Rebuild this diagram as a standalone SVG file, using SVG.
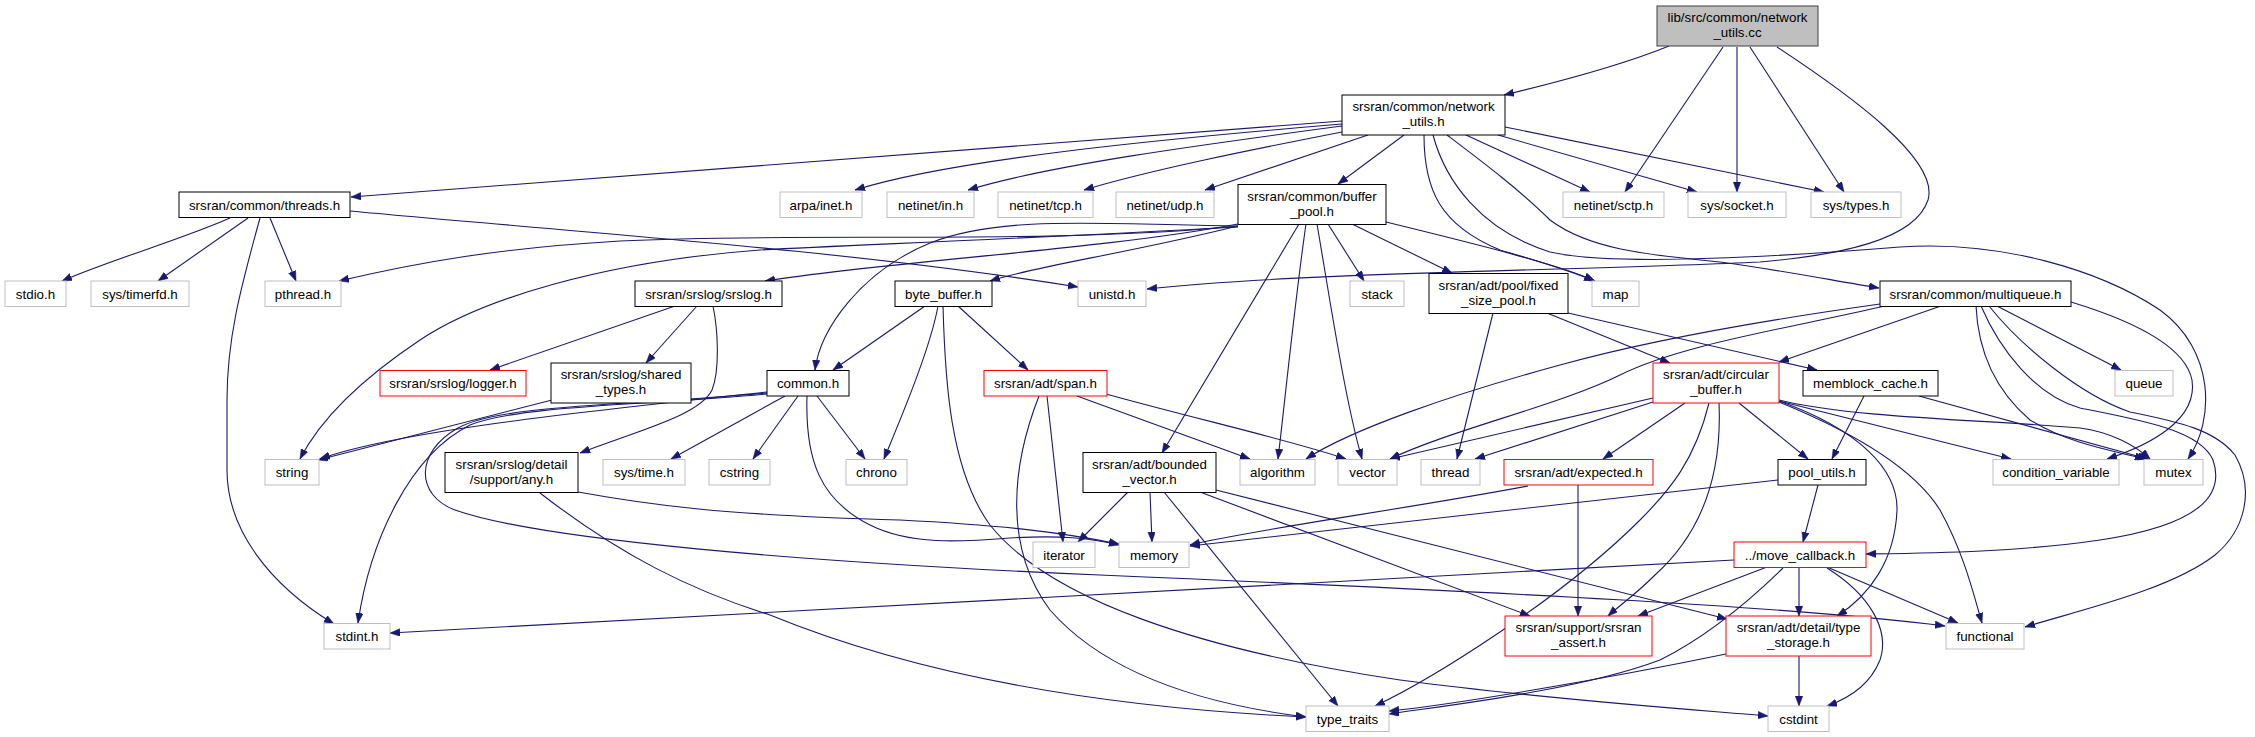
<svg xmlns="http://www.w3.org/2000/svg" width="2255" height="737" viewBox="0 0 2255 737">
<style>
.n rect{fill:#fff;stroke:#000;stroke-width:1}
.g rect{stroke:#bfbfbf}
.r rect{stroke:#ff0000}
.root rect{fill:#bfbfbf;stroke:#404040}
text{font-family:"Liberation Sans",Arial,Helvetica,sans-serif;font-size:13.33px;text-anchor:middle;fill:#000}
#edges path{fill:none;stroke:#191970;stroke-width:1.1;marker-end:url(#a)}
</style>
<defs>
<marker id="a" markerUnits="userSpaceOnUse" markerWidth="11" markerHeight="8" refX="10" refY="3.75" orient="auto">
<path d="M0,0 L10,3.75 L0,7.5 z" fill="#191970" stroke="#191970" stroke-width="0.5"/>
</marker>
</defs>
<rect width="2255" height="737" fill="#fff"/>
<g id="edges">
<path d="M1669,46 C1620,66 1550,84 1504,95"/>
<path d="M1723,47 L1625,192"/>
<path d="M1737,47 L1737,192"/>
<path d="M1750,47 L1844,192"/>
<path d="M1777,47 C1850,95 1940,160 1928,200 C1915,240 1840,255 1760,262 C1600,270 1300,272 1147,289"/>
<path d="M1342,121 L351,197"/>
<path d="M1342,124 C1150,140 950,160 855,190"/>
<path d="M1342,126 C1200,145 1050,165 968,190"/>
<path d="M1342,132 C1250,150 1150,170 1084,190"/>
<path d="M1368,135 L1205,190"/>
<path d="M1404,135 L1338,184"/>
<path d="M1466,135 L1590,192"/>
<path d="M1498,135 L1697,192"/>
<path d="M1505,127 L1824,192"/>
<path d="M1424,135 C1424,190 1440,225 1500,250 C1540,262 1570,270 1594,281"/>
<path d="M1433,135 C1445,180 1480,230 1550,252 C1620,268 1800,255 1900,247 C2000,240 2100,270 2160,310 C2215,350 2215,420 2188,459"/>
<path d="M1447,135 C1480,160 1520,190 1550,220 C1590,250 1650,255 1720,262 C1780,270 1830,280 1879,288"/>
<path d="M1238,226 C1050,245 800,232 620,241 C500,248 420,262 339,281"/>
<path d="M1238,227 C1000,240 850,245 760,250 C600,262 480,300 420,340 C360,380 320,420 300,459"/>
<path d="M1238,224 C1100,250 900,260 765,281"/>
<path d="M1238,226 C1120,255 1040,265 990,281"/>
<path d="M1238,226 C1100,224 1000,215 930,243 C860,272 820,330 815,370"/>
<path d="M1299,224 L1162,453"/>
<path d="M1306,224 C1295,300 1285,400 1278,459"/>
<path d="M1317,224 C1330,300 1345,400 1362,459"/>
<path d="M1328,224 L1364,281"/>
<path d="M1352,224 L1452,273"/>
<path d="M1386,222 C1480,245 1560,265 1595,281"/>
<path d="M230,218 C180,240 110,260 62,281"/>
<path d="M248,218 L158,281"/>
<path d="M270,218 L296,281"/>
<path d="M260,218 C240,290 227,340 227,400 L227,470 C227,530 270,585 334,624"/>
<path d="M350,211 C550,230 850,250 1078,287"/>
<path d="M675,306 L490,370"/>
<path d="M697,306 L646,363"/>
<path d="M713,306 C718,330 720,370 712,390 C700,415 640,430 580,453"/>
<path d="M552,400 L318,460"/>
<path d="M767,392 C600,410 400,430 320,459"/>
<path d="M767,394 C650,405 520,405 470,425 C410,455 370,540 358,623"/>
<path d="M767,393 C640,405 500,404 458,428 C415,452 415,495 455,510 C540,540 800,562 1100,575 C1500,592 1800,607 1945,626"/>
<path d="M785,396 L671,459"/>
<path d="M798,396 L753,459"/>
<path d="M817,396 L865,459"/>
<path d="M807,396 C805,460 820,500 870,525 C910,545 960,542 1010,538 C1060,535 1090,538 1119,545"/>
<path d="M925,306 L833,370"/>
<path d="M938,306 C930,350 900,420 884,459"/>
<path d="M943,306 C945,380 950,470 990,525 C1050,600 1200,650 1400,680 C1550,700 1700,710 1768,716"/>
<path d="M958,306 L1028,370"/>
<path d="M1077,396 L1250,459"/>
<path d="M1106,394 C1200,420 1290,440 1346,459"/>
<path d="M1047,396 L1063,542"/>
<path d="M1039,396 C1010,470 1005,550 1050,610 C1120,690 1250,710 1306,717"/>
<path d="M1128,492 L1078,542"/>
<path d="M1150,492 L1152,542"/>
<path d="M1164,492 L1338,706"/>
<path d="M1200,492 L1530,616"/>
<path d="M1216,490 L1727,619"/>
<path d="M1653,398 L1390,459"/>
<path d="M1653,402 L1475,459"/>
<path d="M1685,403 L1603,459"/>
<path d="M1739,403 L1808,459"/>
<path d="M1709,403 C1695,460 1670,490 1640,520 C1560,600 1430,680 1375,706"/>
<path d="M1719,403 C1722,470 1705,530 1655,575 C1635,595 1620,605 1608,616"/>
<path d="M1779,401 C1860,430 1898,470 1897,510 C1895,560 1870,595 1837,616"/>
<path d="M1779,402 C1860,435 1915,470 1940,510 C1965,555 1975,600 1982,623"/>
<path d="M1779,401 L2011,459"/>
<path d="M1779,400 C1850,418 1990,420 2080,428 C2110,432 2135,445 2150,459"/>
<path d="M1547,313 L1670,363"/>
<path d="M1568,313 L1817,370"/>
<path d="M1493,313 L1457,459"/>
<path d="M1880,304 C1780,318 1650,340 1560,365 C1450,395 1350,430 1306,459"/>
<path d="M1885,306 C1780,330 1680,345 1620,375 C1560,405 1450,430 1390,459"/>
<path d="M1941,306 L1779,362"/>
<path d="M1997,306 L2121,370"/>
<path d="M1976,306 C1978,350 1995,390 2030,420 C2070,445 2120,452 2145,459"/>
<path d="M1981,306 C2000,350 2035,395 2080,408 C2140,420 2200,430 2213,460 C2225,495 2200,525 2100,540 C2020,552 1930,553 1866,554"/>
<path d="M1989,306 C2020,345 2080,395 2130,412 C2180,422 2215,430 2235,455 C2255,490 2245,530 2215,555 C2170,590 2080,610 2025,627"/>
<path d="M2071,302 C2130,320 2185,345 2192,380 C2198,420 2150,445 2107,459"/>
<path d="M1864,396 L1832,459"/>
<path d="M1919,396 L2148,459"/>
<path d="M1818,485 L1803,542"/>
<path d="M1778,480 L1190,546"/>
<path d="M1578,485 L1578,616"/>
<path d="M1528,486 C1400,510 1250,530 1190,545"/>
<path d="M1734,560 L390,633"/>
<path d="M1767,567 L1638,616"/>
<path d="M1783,568 C1740,610 1700,640 1660,660 C1580,690 1450,705 1389,714"/>
<path d="M1799,567 L1799,616"/>
<path d="M1827,567 L1958,623"/>
<path d="M1827,568 C1870,595 1890,630 1880,660 C1870,685 1850,698 1827,706"/>
<path d="M1799,656 L1799,706"/>
<path d="M1726,654 C1600,680 1450,705 1389,711"/>
<path d="M578,492 C650,505 720,515 900,520 C1000,525 1060,532 1119,544"/>
<path d="M540,493 C620,555 690,590 770,615 C880,660 1050,705 1306,717"/>
</g>
<g id="cc" class="n root"><rect x="1657" y="6" width="161" height="40"/><text x="1737.5" y="22">lib/src/common/network</text><text x="1737.5" y="37">_utils.cc</text></g>
<g id="nu" class="n"><rect x="1342" y="95" width="163" height="40"/><text x="1423.5" y="111">srsran/common/network</text><text x="1423.5" y="126">_utils.h</text></g>
<g id="threads" class="n"><rect x="179" y="192" width="171" height="25.5"/><text x="264.5" y="209.5">srsran/common/threads.h</text></g>
<g id="arpa" class="n g"><rect x="780" y="192" width="82" height="25.5"/><text x="821" y="209.5">arpa/inet.h</text></g>
<g id="netin" class="n g"><rect x="887" y="192" width="87" height="25.5"/><text x="930.5" y="209.5">netinet/in.h</text></g>
<g id="tcp" class="n g"><rect x="998" y="192" width="95" height="25.5"/><text x="1045.5" y="209.5">netinet/tcp.h</text></g>
<g id="udp" class="n g"><rect x="1116" y="192" width="98" height="25.5"/><text x="1165" y="209.5">netinet/udp.h</text></g>
<g id="bp" class="n"><rect x="1238" y="184.5" width="148" height="40"/><text x="1312" y="200.5">srsran/common/buffer</text><text x="1312" y="215.5">_pool.h</text></g>
<g id="sctp" class="n g"><rect x="1563" y="192" width="101" height="25.5"/><text x="1613.5" y="209.5">netinet/sctp.h</text></g>
<g id="socket" class="n g"><rect x="1688" y="192" width="98" height="25.5"/><text x="1737" y="209.5">sys/socket.h</text></g>
<g id="types" class="n g"><rect x="1811" y="192" width="90" height="25.5"/><text x="1856" y="209.5">sys/types.h</text></g>
<g id="stdio" class="n g"><rect x="5" y="281" width="61" height="25.5"/><text x="35.5" y="298.5">stdio.h</text></g>
<g id="timerfd" class="n g"><rect x="91" y="281" width="98" height="25.5"/><text x="140" y="298.5">sys/timerfd.h</text></g>
<g id="pthread" class="n g"><rect x="265" y="281" width="76" height="25.5"/><text x="303" y="298.5">pthread.h</text></g>
<g id="srslog" class="n"><rect x="635" y="281" width="147" height="25.5"/><text x="708.5" y="298.5">srsran/srslog/srslog.h</text></g>
<g id="bb" class="n"><rect x="895" y="281" width="97" height="25.5"/><text x="943.5" y="298.5">byte_buffer.h</text></g>
<g id="unistd" class="n g"><rect x="1078" y="281" width="68" height="25.5"/><text x="1112" y="298.5">unistd.h</text></g>
<g id="stack" class="n g"><rect x="1350" y="281" width="54" height="25.5"/><text x="1377" y="298.5">stack</text></g>
<g id="fsp" class="n"><rect x="1429" y="273.5" width="139" height="40"/><text x="1498.5" y="289.5">srsran/adt/pool/fixed</text><text x="1498.5" y="304.5">_size_pool.h</text></g>
<g id="map" class="n g"><rect x="1592" y="281" width="47" height="25.5"/><text x="1615.5" y="298.5">map</text></g>
<g id="mq" class="n"><rect x="1880" y="281" width="191" height="25.5"/><text x="1975.5" y="298.5">srsran/common/multiqueue.h</text></g>
<g id="logger" class="n r"><rect x="380" y="370.5" width="146" height="25.5"/><text x="453" y="388">srsran/srslog/logger.h</text></g>
<g id="shared" class="n"><rect x="551" y="363" width="140" height="40"/><text x="621" y="379">srsran/srslog/shared</text><text x="621" y="394">_types.h</text></g>
<g id="common" class="n"><rect x="767" y="370.5" width="82" height="25.5"/><text x="808" y="388">common.h</text></g>
<g id="span" class="n r"><rect x="984" y="370.5" width="123" height="25.5"/><text x="1045.5" y="388">srsran/adt/span.h</text></g>
<g id="cb" class="n r"><rect x="1653" y="363" width="126" height="40"/><text x="1716" y="379">srsran/adt/circular</text><text x="1716" y="394">_buffer.h</text></g>
<g id="mc" class="n"><rect x="1803" y="370.5" width="135" height="25.5"/><text x="1870.5" y="388">memblock_cache.h</text></g>
<g id="queue" class="n g"><rect x="2115" y="370.5" width="58" height="25.5"/><text x="2144" y="388">queue</text></g>
<g id="string" class="n g"><rect x="265" y="459.5" width="54" height="25.5"/><text x="292" y="477">string</text></g>
<g id="any" class="n"><rect x="445" y="452.5" width="133" height="40"/><text x="511.5" y="468.5">srsran/srslog/detail</text><text x="511.5" y="483.5">/support/any.h</text></g>
<g id="systime" class="n g"><rect x="603" y="459.5" width="82" height="25.5"/><text x="644" y="477">sys/time.h</text></g>
<g id="cstring" class="n g"><rect x="709" y="459.5" width="61" height="25.5"/><text x="739.5" y="477">cstring</text></g>
<g id="chrono" class="n g"><rect x="846" y="459.5" width="61" height="25.5"/><text x="876.5" y="477">chrono</text></g>
<g id="bv" class="n"><rect x="1083" y="452.5" width="133" height="40"/><text x="1149.5" y="468.5">srsran/adt/bounded</text><text x="1149.5" y="483.5">_vector.h</text></g>
<g id="algorithm" class="n g"><rect x="1240" y="459.5" width="75" height="25.5"/><text x="1277.5" y="477">algorithm</text></g>
<g id="vector" class="n g"><rect x="1338" y="459.5" width="59" height="25.5"/><text x="1367.5" y="477">vector</text></g>
<g id="thread" class="n g"><rect x="1421" y="459.5" width="59" height="25.5"/><text x="1450.5" y="477">thread</text></g>
<g id="expected" class="n r"><rect x="1504" y="459.5" width="149" height="25.5"/><text x="1578.5" y="477">srsran/adt/expected.h</text></g>
<g id="pu" class="n"><rect x="1778" y="459.5" width="88" height="25.5"/><text x="1822" y="477">pool_utils.h</text></g>
<g id="cv" class="n g"><rect x="1993" y="459.5" width="126" height="25.5"/><text x="2056" y="477">condition_variable</text></g>
<g id="mutex" class="n g"><rect x="2144" y="459.5" width="59" height="25.5"/><text x="2173.5" y="477">mutex</text></g>
<g id="iterator" class="n g"><rect x="1033" y="542" width="62" height="25.5"/><text x="1064" y="559.5">iterator</text></g>
<g id="memory" class="n g"><rect x="1119" y="542" width="70" height="25.5"/><text x="1154" y="559.5">memory</text></g>
<g id="mcb" class="n r"><rect x="1734" y="542" width="132" height="25.5"/><text x="1800" y="559.5">../move_callback.h</text></g>
<g id="stdint" class="n g"><rect x="324" y="623.5" width="66" height="25.5"/><text x="357" y="641">stdint.h</text></g>
<g id="assert" class="n r"><rect x="1505" y="616" width="147" height="40"/><text x="1578.5" y="632">srsran/support/srsran</text><text x="1578.5" y="647">_assert.h</text></g>
<g id="ts" class="n r"><rect x="1726" y="616" width="145" height="40"/><text x="1798.5" y="632">srsran/adt/detail/type</text><text x="1798.5" y="647">_storage.h</text></g>
<g id="functional" class="n g"><rect x="1946" y="623.5" width="78" height="25.5"/><text x="1985" y="641">functional</text></g>
<g id="tt" class="n g"><rect x="1306" y="706" width="83" height="25.5"/><text x="1347.5" y="723.5">type_traits</text></g>
<g id="cstdint" class="n g"><rect x="1768" y="706" width="61" height="25.5"/><text x="1798.5" y="723.5">cstdint</text></g>
</svg>
